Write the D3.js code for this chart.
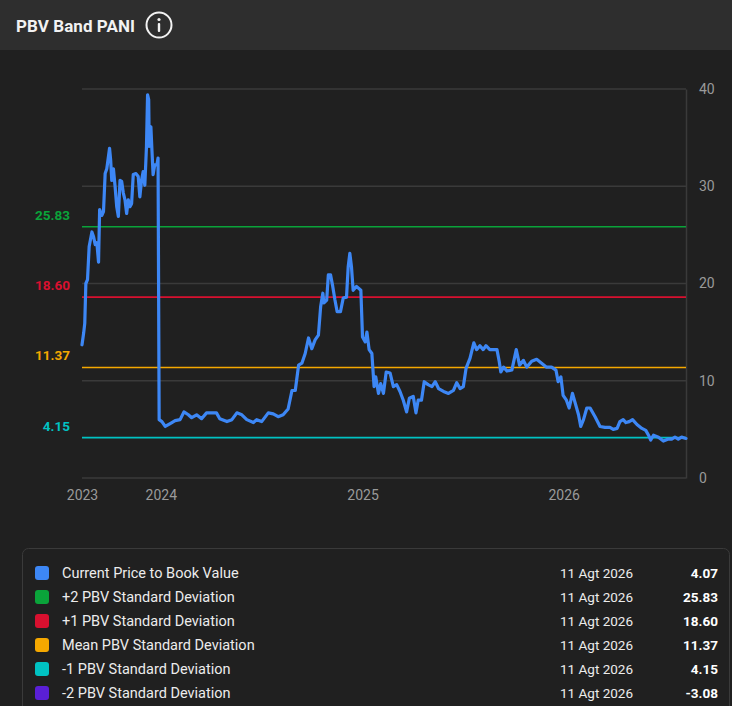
<!DOCTYPE html>
<html>
<head>
<meta charset="utf-8">
<script src="https://cdn.jsdelivr.net/npm/d3@7"></script>
<style>
	html,body{margin:0;padding:0;background:#202020;}
	svg{display:block;font-family:Roboto,'Noto Sans',sans-serif;}
</style>
</head>
<body>
<svg id="chart" width="732" height="706"></svg>
<script>
/* series: current PBV */
const dates = [
	'2023-08-11','2023-08-14','2023-08-16','2023-08-18','2023-08-21','2023-08-24','2023-08-29','2023-09-01','2023-09-04','2023-09-07',
	'2023-09-10','2023-09-12','2023-09-16','2023-09-19','2023-09-22','2023-09-25','2023-09-30','2023-10-02','2023-10-04','2023-10-07',
	'2023-10-10','2023-10-13','2023-10-16','2023-10-19','2023-10-22','2023-10-25','2023-10-28','2023-10-31','2023-11-03','2023-11-06',
	'2023-11-09','2023-11-12','2023-11-17','2023-11-21','2023-11-24','2023-11-27','2023-11-30','2023-12-03','2023-12-06','2023-12-08',
	'2023-12-10','2023-12-11','2023-12-14','2023-12-16','2023-12-18','2023-12-21','2023-12-25','2023-12-27','2023-12-29','2024-01-03',
	'2024-01-09','2024-01-18','2024-01-27','2024-02-05','2024-02-12','2024-02-20','2024-02-26','2024-03-06','2024-03-15','2024-03-24',
	'2024-04-02','2024-04-11','2024-04-17','2024-04-30','2024-05-09','2024-05-18','2024-05-27','2024-06-05','2024-06-17','2024-06-23',
	'2024-07-02','2024-07-14','2024-07-23','2024-08-01','2024-08-10','2024-08-19','2024-08-26','2024-09-01','2024-09-07','2024-09-13',
	'2024-09-19','2024-09-25','2024-10-01','2024-10-07','2024-10-13','2024-10-17','2024-10-21','2024-10-23','2024-10-28','2024-10-31',
	'2024-11-04','2024-11-08','2024-11-12','2024-11-16','2024-11-22','2024-11-27','2024-12-03','2024-12-06','2024-12-09','2024-12-12',
	'2024-12-15','2024-12-21','2024-12-29','2025-01-01','2025-01-06','2025-01-09','2025-01-13','2025-01-18','2025-01-22','2025-01-25',
	'2025-01-30','2025-02-03','2025-02-08','2025-02-13','2025-02-20','2025-02-26','2025-03-04','2025-03-10','2025-03-16','2025-03-22',
	'2025-03-27','2025-04-03','2025-04-08','2025-04-12','2025-04-18','2025-04-23','2025-04-30','2025-05-07','2025-05-13','2025-05-19',
	'2025-05-28','2025-06-06','2025-06-15','2025-06-21','2025-06-27','2025-07-03','2025-07-08','2025-07-15','2025-07-22','2025-07-27',
	'2025-08-02','2025-08-08','2025-08-13','2025-08-20','2025-09-02','2025-09-06','2025-09-09','2025-09-14','2025-09-20','2025-09-29',
	'2025-10-07','2025-10-13','2025-10-20','2025-10-26','2025-11-04','2025-11-13','2025-11-22','2025-12-01','2025-12-10','2025-12-18',
	'2025-12-22','2025-12-27','2025-12-31','2026-01-06','2026-01-11','2026-01-17','2026-01-22','2026-01-28','2026-02-01','2026-02-06',
	'2026-02-12','2026-02-18','2026-02-27','2026-03-08','2026-03-17','2026-03-26','2026-04-01','2026-04-08','2026-04-13','2026-04-19',
	'2026-04-24','2026-04-30','2026-05-06','2026-05-14','2026-05-23','2026-05-30','2026-06-04','2026-06-08','2026-06-13','2026-06-22',
	'2026-07-01','2026-07-10','2026-07-16','2026-07-22','2026-07-28','2026-08-03','2026-08-11'
]
const pbv = [
	13.7,14.9,15.9,20.0,20.4,23.8,25.3,24.8,24.0,24.2,
	22.2,27.6,27.0,27.4,31.3,31.8,33.9,32.7,30.6,31.8,
	30.0,27.9,26.9,30.6,30.5,29.3,28.6,27.2,28.6,27.9,
	28.2,31.2,31.3,31.0,28.9,30.6,31.5,30.1,34.1,39.4,
	38.9,34.1,36.1,33.6,31.2,32.2,32.2,32.9,6.0,5.8,
	5.3,5.6,5.9,6.0,6.8,6.5,6.2,6.5,6.1,6.7,
	6.7,6.7,6.1,5.8,6.0,6.7,6.5,6.0,5.7,6.0,
	5.8,6.7,6.6,6.3,6.5,7.1,9.0,9.0,11.6,11.8,
	12.8,14.4,13.3,14.2,14.7,17.6,19.0,18.0,18.3,20.9,
	20.9,19.7,18.3,17.1,17.1,18.5,18.6,21.7,23.1,21.7,
	19.3,19.7,19.3,14.5,14.0,15.0,13.2,12.8,9.4,10.4,
	8.7,9.7,8.7,10.9,10.8,9.4,9.6,8.9,8.0,6.8,
	8.2,8.4,6.7,8.0,8.0,9.9,9.6,9.4,9.9,9.2,
	8.9,8.7,9.0,9.8,9.2,9.4,11.3,12.3,13.9,13.2,
	13.6,13.2,13.6,13.2,13.2,12.0,10.9,11.4,11.0,11.1,
	13.2,11.6,12.1,11.4,12.0,12.2,11.8,11.4,11.4,11.1,
	9.9,10.4,8.5,8.0,7.2,8.7,7.7,6.5,5.3,6.0,
	7.2,7.2,6.3,5.3,5.2,5.2,5.0,5.1,5.8,6.0,
	5.7,5.8,6.0,5.5,5.1,4.9,4.4,3.9,4.4,4.2,
	3.8,4.0,4.0,4.2,4.0,4.2,4.07
]

/* standard deviation bands */
const band_names = ['+2 PBV Standard Deviation','+1 PBV Standard Deviation','Mean PBV Standard Deviation','-1 PBV Standard Deviation','-2 PBV Standard Deviation']
const band_values = [25.83,18.60,11.37,4.15,-3.08]
const band_colors = ['#0aa33a','#d8102f','#f5a800','#00c2c2','#5a1fd6']

const y_ticks = [0,10,20,30,40]
const x_ticks = ['2023-08-11','2024-01-01','2025-01-01','2026-01-01']
const last_date = '11 Agt 2026'
const pbv_name = 'Current Price to Book Value'
const pbv_color = '#3d87f5'

const parse = d3.timeParse('%Y-%m-%d')

const svg = d3.select('#chart')

/* header bar */
svg.append('rect')
	.attr('width',732)
	.attr('height',50)
	.attr('fill','#2e2e2e')

svg.append('text')
	.text('PBV Band PANI')
	.attr('x',16)
	.attr('y',32)
	.attr('fill','#f2f2f2')
	.attr('font-size',17)
	.attr('font-weight',700)
	.attr('textLength',119)

const info = svg.append('g').attr('transform','translate(159,25)')
info.append('circle')
	.attr('r',12.5)
	.attr('fill','none')
	.attr('stroke','#f2f2f2')
	.attr('stroke-width',2)
info.append('circle')
	.attr('cy',-5.5)
	.attr('r',1.6)
	.attr('fill','#f2f2f2')
info.append('rect')
	.attr('x',-1.2)
	.attr('y',-2)
	.attr('width',2.4)
	.attr('height',9)
	.attr('rx',1)
	.attr('fill','#f2f2f2')

/* scales */
const xScale = d3.scaleTime()
	.domain([parse('2023-08-11'),parse('2026-08-11')])
	.range([82,686])

const yScale = d3.scaleLinear()
	.domain([0,40])
	.range([478,89])

const chart = svg.append('g')

//gridlines
chart.append('g')
	.selectAll('line')
	.data(y_ticks)
	.enter()
	.append('line')
	.attr('x1',82)
	.attr('x2',686)
	.attr('y1',d => yScale(d))
	.attr('y2',d => yScale(d))
	.attr('stroke','#3a3a3a')
	.attr('stroke-width',1.5)

//right axis
const axisY = chart.append('g')
	.attr('transform','translate(686,0)')
	.call(d3.axisRight(yScale).tickValues(y_ticks).tickSize(0).tickPadding(13))
axisY.select('.domain').attr('stroke','#3a3a3a').attr('stroke-width',1.5)
axisY.selectAll('text')
	.attr('fill','#9a9a9a')
	.attr('font-size',14)
	.attr('font-family','Roboto,sans-serif')

//bottom axis, labels only
const axisX = chart.append('g')
	.attr('transform','translate(0,478)')
	.call(d3.axisBottom(xScale)
		.tickValues(x_ticks.map(parse))
		.tickFormat(d3.timeFormat('%Y'))
		.tickSize(0)
		.tickPadding(12))
axisX.select('.domain').remove()
axisX.selectAll('text')
	.attr('fill','#9a9a9a')
	.attr('font-size',14)
	.attr('font-family','Roboto,sans-serif')

//bands inside the visible domain
const bands = band_values
	.map((v,i) => ({v:v,c:band_colors[i]}))
	.filter(d => d.v >= 0)

chart.selectAll('.band')
	.data(bands)
	.enter()
	.append('line')
	.classed('band',true)
	.attr('x1',82)
	.attr('x2',686)
	.attr('y1',d => yScale(d.v))
	.attr('y2',d => yScale(d.v))
	.attr('stroke',d => d.c)
	.attr('stroke-width',1.6)

chart.selectAll('.band_label')
	.data(bands)
	.enter()
	.append('text')
	.classed('band_label',true)
	.text(d => d.v.toFixed(2))
	.attr('x',70)
	.attr('y',d => yScale(d.v) - 7)
	.attr('text-anchor','end')
	.attr('fill',d => d.c)
	.attr('font-size',13.5)
	.attr('font-weight',700)

//pbv line
const series = dates.map((d,i) => ({date:parse(d),value:pbv[i]}))

chart.append('path')
	.datum(series)
	.attr('fill','none')
	.attr('stroke',pbv_color)
	.attr('stroke-width',3.2)
	.attr('stroke-linejoin','round')
	.attr('stroke-linecap','round')
	.attr('d',d3.line().x(d => xScale(d.date)).y(d => yScale(d.value)))

/* legend table */
svg.append('rect')
	.attr('x',22.5)
	.attr('y',548.5)
	.attr('width',707)
	.attr('height',180)
	.attr('rx',6)
	.attr('fill','#202020')
	.attr('stroke','#3a3a3a')

const rows = [{name:pbv_name,color:pbv_color,value:pbv[pbv.length - 1]}]
	.concat(band_names.map((n,i) => ({name:n,color:band_colors[i],value:band_values[i]})))

const row = svg.selectAll('.row')
	.data(rows)
	.enter()
	.append('g')
	.classed('row',true)
	.attr('transform',(d,i) => `translate(0,${573 + i*24})`)

row.append('rect')
	.attr('x',35)
	.attr('y',-7)
	.attr('width',14)
	.attr('height',14)
	.attr('rx',3)
	.attr('fill',d => d.color)

row.append('text')
	.text(d => d.name)
	.attr('x',62)
	.attr('dy','0.35em')
	.attr('fill','#ececec')
	.attr('font-size',14.5)

row.append('text')
	.text(last_date)
	.attr('x',560)
	.attr('dy','0.35em')
	.attr('fill','#ececec')
	.attr('font-size',13.5)

row.append('text')
	.text(d => d.value.toFixed(2))
	.attr('x',718)
	.attr('dy','0.35em')
	.attr('text-anchor','end')
	.attr('fill','#ffffff')
	.attr('font-size',13.5)
	.attr('font-weight',700)
</script>
</body>
</html>
